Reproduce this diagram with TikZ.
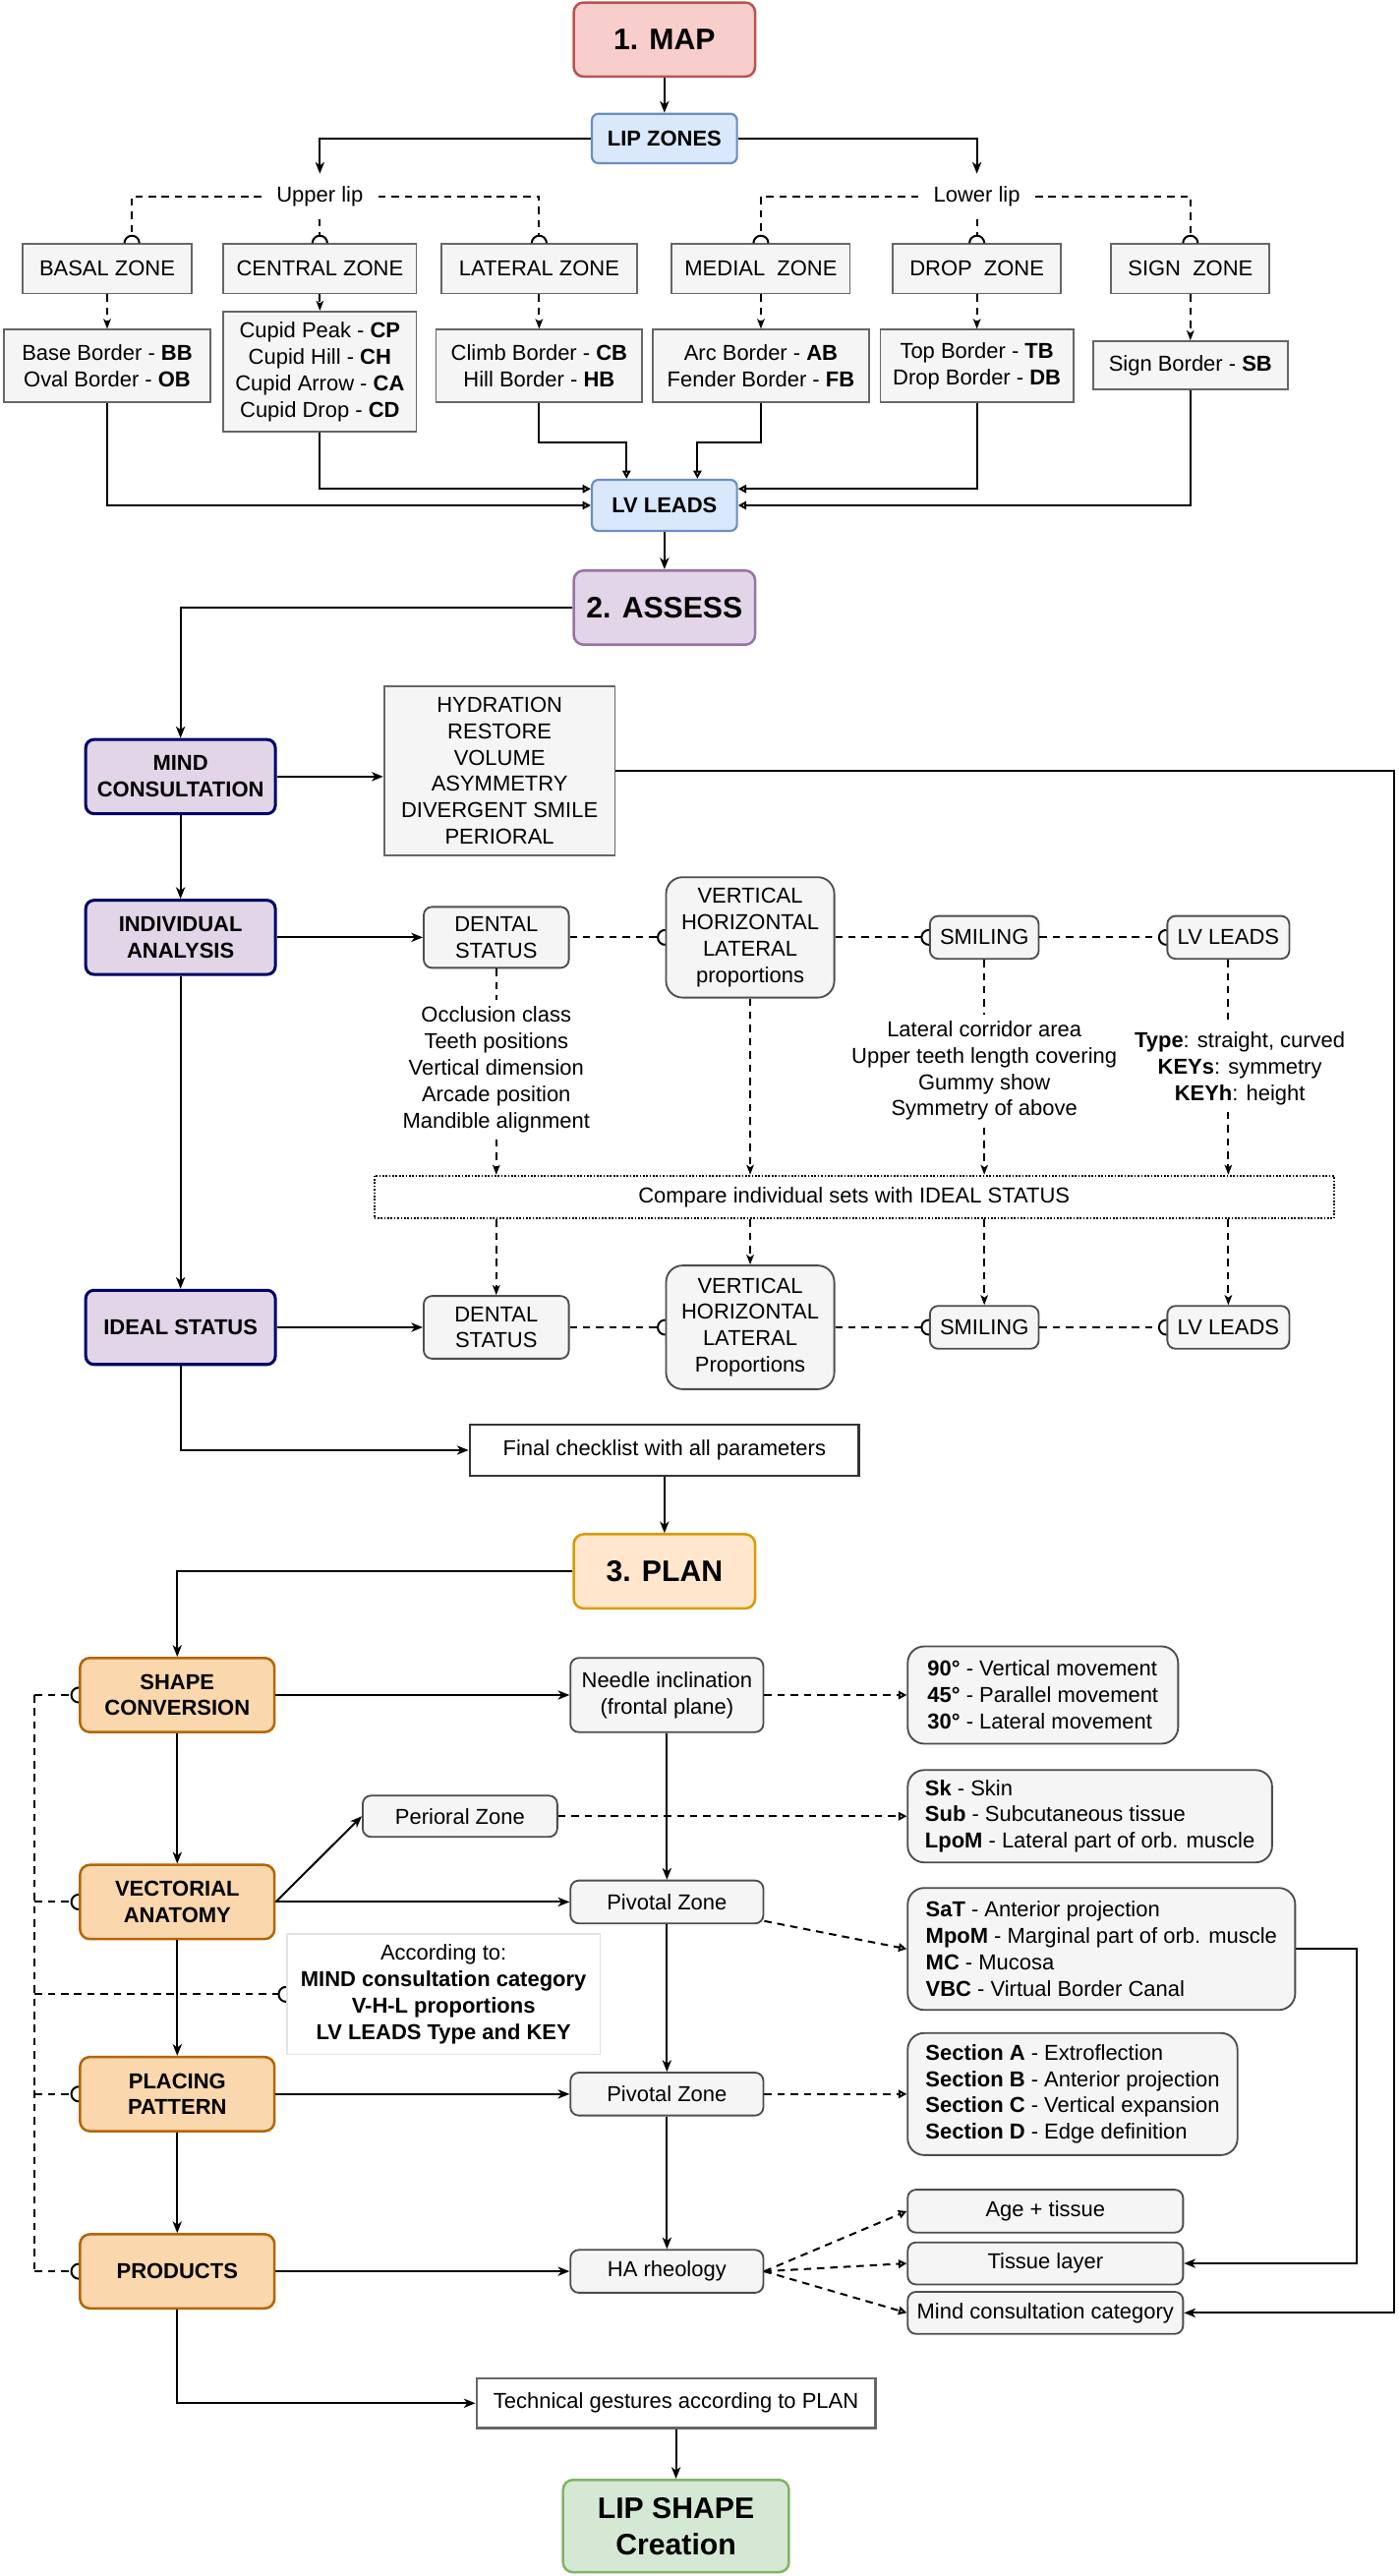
\documentclass[tikz,border=0pt]{standalone}
\usepackage{fontspec}
\setmainfont{Liberation Sans}
\usetikzlibrary{positioning, calc, arrows.meta, decorations.markings}

\definecolor{mapfill}{HTML}{F8CECC}
\definecolor{mapdraw}{HTML}{B85450}
\definecolor{bluefill}{HTML}{DAE8FC}
\definecolor{bluedraw}{HTML}{6C8EBF}
\definecolor{purfill}{HTML}{E1D5E7}
\definecolor{purdraw}{HTML}{9673A6}
\definecolor{navy}{HTML}{000066}
\definecolor{planfill}{HTML}{FFE6CC}
\definecolor{plandraw}{HTML}{D79B00}
\definecolor{orfill}{HTML}{FAD7AC}
\definecolor{ordraw}{HTML}{B46504}
\definecolor{greenfill}{HTML}{D5E8D4}
\definecolor{greendraw}{HTML}{82B366}
\definecolor{boxfill}{HTML}{F5F5F5}
\definecolor{boxdraw}{HTML}{666666}
\definecolor{itemdraw}{HTML}{4D4D4D}
\definecolor{paledraw}{HTML}{E3E3E3}

\newcommand{\diagfont}{\fontsize{13.1}{16}\selectfont}
\newcommand{\stagefont}{\fontsize{18}{22}\selectfont\bfseries}

\tikzset{
every node/.style = {font = \diagfont, align = center, inner sep = 2pt},
stage/.style = {rectangle, draw, rounded corners = 6pt, line width = 1.5pt,
   minimum width = 110pt, minimum height = 45pt, font = \stagefont},
leadbox/.style = {rectangle, draw = bluedraw, fill = bluefill, rounded corners = 4pt,
   line width = 1.3pt, minimum width = 88pt, minimum height = 30pt, font = \diagfont\bfseries},
liplabel/.style = {inner xsep = 9pt, minimum height = 27pt},
zonebox/.style = {rectangle, draw = boxdraw, fill = boxfill, line width = 1.1pt,
   minimum height = 30pt},
borderbox/.style = {rectangle, draw = boxdraw, fill = boxfill, line width = 1.1pt,
   minimum height = 44pt},
mindbox/.style = {rectangle, draw = navy, fill = purfill, rounded corners = 5pt,
   line width = 1.8pt, minimum width = 115pt, minimum height = 45pt, font = \diagfont\bfseries},
orangebox/.style = {rectangle, draw = ordraw, fill = orfill, rounded corners = 6pt,
   line width = 1.5pt, minimum width = 118pt, minimum height = 45pt, font = \diagfont\bfseries},
itembox/.style = {rectangle, draw = itemdraw, fill = boxfill, rounded corners = 5pt,
   line width = 1.1pt, minimum height = 26pt},
tallbox/.style = {itembox, rounded corners = 10pt},
listbox/.style = {itembox, rounded corners = 10pt, align = left, anchor = west},
plainbox/.style = {rectangle, fill = white, line width = 1.3pt},
comparebox/.style = {rectangle, draw, line width = 1.1pt, dash pattern = on 1pt off 1pt,
   minimum width = 582pt, minimum height = 26pt},
textblock/.style = {inner xsep = 2pt, inner ysep = 4pt},
arrowline/.style = {-{Stealth[length = 7pt, width = 5.5pt, inset = 2pt]}, line width = 1.2pt},
openarrow/.style = {-{Triangle[open, length = 5pt, width = 5pt]}, line width = 1.2pt},
dashline/.style = {line width = 1.2pt, dash pattern = on 4.5pt off 3.5pt},
dasharrow/.style = {dashline, -{Stealth[length = 6pt, width = 4.5pt, inset = 1.5pt]}},
dashopen/.style = {dashline, -{Triangle[open, length = 5pt, width = 5pt]}},
halfcircle/.style = {dashline, shorten > = 4.5pt, postaction = {decorate},
   decoration = {markings, mark = at position 1 with
   {\draw [solid, line width = 1.2pt, shorten > = 0pt, shorten < = 0pt] (0pt,4.5pt) arc (90:270:4.5pt);}}}
}

\begin{document}
\begin{tikzpicture}[x = 1pt, y = -1pt]

\useasboundingbox (0,0) rectangle (848,1562.3);

%% 1. MAP
\node [stage, fill = mapfill, draw = mapdraw] (map) at (403,24) {1. MAP};
\node [leadbox] (lipzones) at (403,84) {LIP ZONES};
\node [liplabel] (upper) at (194,119) {Upper lip};
\node [liplabel] (lower) at (592.5,119) {Lower lip};

\path [arrowline] (map) edge (lipzones);
\draw [arrowline] (lipzones.west) -| (upper.north);
\draw [arrowline] (lipzones.east) -| (lower.north);

%% The lip zones
\node [zonebox, minimum width = 103pt] (basalz) at (65,163) {BASAL ZONE};
\node [zonebox, minimum width = 117pt] (centralz) at (194,163) {CENTRAL ZONE};
\node [zonebox, minimum width = 119pt] (lateralz) at (327,163) {LATERAL ZONE};
\node [zonebox, minimum width = 108pt] (medialz) at (461.5,163) {MEDIAL\ \ ZONE};
\node [zonebox, minimum width = 102pt] (dropz) at (592.5,163) {DROP\ \ ZONE};
\node [zonebox, minimum width = 96pt] (signz) at (722,163) {SIGN\ \ ZONE};

\draw [halfcircle] (upper.west) -| ([xshift = 15pt]basalz.north);
\draw [halfcircle] (upper) -- (centralz);
\draw [halfcircle] (upper.east) -| (lateralz.north);
\draw [halfcircle] (lower.west) -| (medialz.north);
\draw [halfcircle] (lower) -- (dropz);
\draw [halfcircle] (lower.east) -| (signz.north);

%% Their borders
\node [borderbox, minimum width = 125pt] (basalb) at (65,222) {Base Border - \textbf{BB}\\Oval Border - \textbf{OB}};
\node [borderbox, minimum width = 117pt, minimum height = 73pt] (centralb) at (194,225.5)
   {Cupid Peak - \textbf{CP}\\Cupid Hill - \textbf{CH}\\Cupid Arrow - \textbf{CA}\\Cupid Drop - \textbf{CD}};
\node [borderbox, minimum width = 125pt] (lateralb) at (327,222) {Climb Border - \textbf{CB}\\Hill Border - \textbf{HB}};
\node [borderbox, minimum width = 131pt] (medialb) at (461.5,222) {Arc Border - \textbf{AB}\\Fender Border - \textbf{FB}};
\node [borderbox, minimum width = 117pt] (dropb) at (592.5,222) {Top Border - \textbf{TB}\\Drop Border - \textbf{DB}};
\node [borderbox, minimum width = 118pt, minimum height = 29pt] (signb) at (722,221.5) {Sign Border - \textbf{SB}};

\path [dasharrow] (basalz) edge (basalb);
\path [dasharrow] (centralz) edge (centralb);
\path [dasharrow] (lateralz) edge (lateralb);
\path [dasharrow] (medialz) edge (medialb);
\path [dasharrow] (dropz) edge (dropb);
\path [dasharrow] (signz) edge (signb);

%% LV LEADS
\node [leadbox, minimum height = 31pt] (lvleads) at (403,306.5) {LV LEADS};

\draw [openarrow] (basalb) |- (lvleads);
\draw [openarrow] (centralb) |- ([yshift = 10pt]lvleads.west);
\draw [openarrow] (lateralb.south) -- ++(0,24) -| ([xshift = -23pt]lvleads.north);
\draw [openarrow] (medialb.south) -- ++(0,24) -| ([xshift = 20pt]lvleads.north);
\draw [openarrow] (dropb) |- ([yshift = 10pt]lvleads.east);
\draw [openarrow] (signb) |- (lvleads);

%% 2. ASSESS
\node [stage, fill = purfill, draw = purdraw] (assess) at (403,368.5) {2. ASSESS};
\path [arrowline] (lvleads) edge (assess);

\node [mindbox] (mind) at (109.5,471) {MIND\\CONSULTATION};
\node [borderbox, minimum width = 140pt, minimum height = 103pt] (concerns) at (303,467.5)
   {HYDRATION\\RESTORE\\VOLUME\\ASYMMETRY\\DIVERGENT SMILE\\PERIORAL};

\draw [arrowline] (assess) -| (mind);
\draw [arrowline] (mind) -- (mind -| concerns.west);

%% Individual analysis
\node [mindbox] (indiv) at (109.5,568.5) {INDIVIDUAL\\ANALYSIS};
\node [itembox, minimum width = 88pt, minimum height = 37pt] (dent1) at (301,568.5) {DENTAL\\STATUS};
\node [tallbox, minimum width = 102pt, minimum height = 73pt] (vert1) at (455,568.5)
   {VERTICAL\\HORIZONTAL\\LATERAL\\proportions};
\node [itembox, minimum width = 66pt] (smil1) at (597,568.5) {SMILING};
\node [itembox, minimum width = 74pt] (lvl1) at (745,568.5) {LV LEADS};

\path [arrowline] (mind) edge (indiv);
\path [arrowline] (indiv) edge (dent1);
\draw [halfcircle] (dent1) -- (vert1);
\draw [halfcircle] (vert1) -- (smil1);
\draw [halfcircle] (smil1) -- (lvl1);

\node [textblock] (occl) at (301,648.7)
   {Occlusion class\\Teeth positions\\Vertical dimension\\Arcade position\\Mandible alignment};
\node [textblock] (smtext) at (597,649.4)
   {Lateral corridor area\\Upper teeth length covering\\Gummy show\\Symmetry of above};
\node [textblock] (lvtext) at (752,648)
   {\textbf{Type}: straight, curved\\\textbf{KEYs}: symmetry\\\textbf{KEYh}: height};

\node [comparebox] (compare) at (518,726) {Compare individual sets with IDEAL STATUS};

\path [dashline] (dent1) edge (occl);
\path [dasharrow] (occl) edge (occl |- compare.north);
\path [dasharrow] (vert1) edge (vert1 |- compare.north);
\path [dashline] (smil1) edge (smtext);
\path [dasharrow] (smtext) edge (smtext |- compare.north);
\path [dashline] (lvl1) edge (lvl1 |- lvtext.north);
\path [dasharrow] (lvl1 |- lvtext.south) edge (lvl1 |- compare.north);

%% Ideal status
\node [mindbox] (ideal) at (109.5,805) {IDEAL STATUS};
\node [itembox, minimum width = 88pt, minimum height = 38pt] (dent2) at (301,805) {DENTAL\\STATUS};
\node [tallbox, minimum width = 102pt, minimum height = 75pt] (vert2) at (455,805)
   {VERTICAL\\HORIZONTAL\\LATERAL\\Proportions};
\node [itembox, minimum width = 66pt] (smil2) at (smil1 |- dent2) {SMILING};
\node [itembox, minimum width = 74pt] (lvl2) at (lvl1 |- dent2) {LV LEADS};

\path [arrowline] (indiv) edge (ideal);
\path [arrowline] (ideal) edge (dent2);
\draw [halfcircle] (dent2) -- (vert2);
\draw [halfcircle] (vert2) -- (smil2);
\draw [halfcircle] (smil2) -- (lvl2);

\path [dasharrow] (compare.south -| dent2) edge (dent2);
\path [dasharrow] (compare.south -| vert2) edge (vert2);
\path [dasharrow] (compare.south -| smil2) edge (smil2);
\path [dasharrow] (compare.south -| lvl2) edge (lvl2);

\node [plainbox, draw = black!80, line width = 1.6pt, minimum width = 236pt, minimum height = 31pt]
   (final) at (403,879.5) {Final checklist with all parameters};
\draw [arrowline] (ideal) |- (final);

%% 3. PLAN
\node [stage, fill = planfill, draw = plandraw] (plan) at (403,953) {3. PLAN};
\path [arrowline] (final) edge (plan);

\node [orangebox] (shape) at (107.5,1028) {SHAPE\\CONVERSION};
\node [orangebox] (vect) at (107.5,1153.5) {VECTORIAL\\ANATOMY};
\node [orangebox] (place) at (107.5,1270) {PLACING\\PATTERN};
\node [orangebox] (prod) at (107.5,1377.5) {PRODUCTS};

\draw [arrowline] (plan) -| (shape);
\path [arrowline] (shape) edge (vect);
\path [arrowline] (vect) edge (place);
\path [arrowline] (place) edge (prod);

%% Middle column
\node [itembox, minimum width = 117pt, minimum height = 45pt] (needle) at (404.5,1028) {Needle inclination\\(frontal plane)};
\node [itembox, minimum width = 118pt, minimum height = 25pt] (perioral) at (279,1101.5) {Perioral Zone};
\node [itembox, minimum width = 117pt] (piv1) at (404.5,1153.5) {Pivotal Zone};
\node [itembox, minimum width = 117pt] (piv2) at (404.5,1270) {Pivotal Zone};
\node [itembox, minimum width = 117pt] (harh) at (404.5,1377.5) {HA rheology};
\node [rectangle, draw = paledraw, fill = white, line width = 1pt, minimum width = 190pt, minimum height = 73pt]
   (according) at (269,1209.5) {According to:\\\textbf{MIND consultation category}\\\textbf{V-H-L proportions}\\\textbf{LV LEADS Type and KEY}};

\path [arrowline] (shape) edge (needle);
\path [arrowline] (vect.east) edge (perioral.west);
\path [arrowline] (vect) edge (piv1);
\path [arrowline] (place) edge (piv2);
\path [arrowline] (prod) edge (harh);
\path [arrowline] (needle) edge (piv1);
\path [arrowline] (piv1) edge (piv2);
\path [arrowline] (piv2) edge (harh);

%% Right column
\node [listbox, minimum width = 164pt, minimum height = 59pt] (angles) at (550,1028)
   {\textbf{90°} - Vertical movement\\\textbf{45°} - Parallel movement\\\textbf{30°} - Lateral movement};
\node [listbox, minimum width = 221pt, minimum height = 56pt] (layers) at (550,1101.5)
   {\textbf{Sk} - Skin\\\textbf{Sub} - Subcutaneous tissue\\\textbf{LpoM} - Lateral part of orb. muscle};
\node [listbox, minimum width = 235pt, minimum height = 74pt] (pivots) at (550,1182)
   {\textbf{SaT} - Anterior projection\\\textbf{MpoM} - Marginal part of orb. muscle\\\textbf{MC} - Mucosa\\\textbf{VBC} - Virtual Border Canal};
\node [listbox, minimum width = 200pt, minimum height = 74pt] (sections) at (550,1270)
   {\textbf{Section A} - Extroflection\\\textbf{Section B} - Anterior projection\\\textbf{Section C} - Vertical expansion\\\textbf{Section D} - Edge definition};
\node [itembox, anchor = west, minimum width = 167pt] (agetis) at (550,1341) {Age + tissue};
\node [itembox, anchor = west, minimum width = 167pt, minimum height = 25.5pt] (tislayer) at (550,1372.7) {Tissue layer};
\node [itembox, anchor = west, minimum width = 167pt, minimum height = 25.5pt] (mindcat) at (550,1402.7) {Mind consultation category};

\path [dashopen] (needle) edge (angles);
\path [dashopen] (perioral) edge (layers);
\path [dashopen] (piv1) edge (pivots.west);
\path [dashopen] (piv2) edge (sections);
\path [dashopen] (harh.east) edge (agetis.west);
\path [dashopen] (harh.east) edge (tislayer.west);
\path [dashopen] (harh.east) edge (mindcat.west);

\draw [arrowline] (pivots.east) -- ++(37,0) |- (tislayer);
\draw [arrowline] (concerns.east) -- ++(472,0) |- (mindcat);

%% Left dashed bus with half circles
\coordinate (bustop) at (21,1028);
\coordinate (busend) at (21,1377.5);
\path [dashline] (bustop) edge (busend);
\draw [halfcircle] (bustop) -- (shape);
\draw [halfcircle] (bustop |- vect) -- (vect);
\draw [halfcircle] (bustop |- according) -- (according);
\draw [halfcircle] (bustop |- place) -- (place);
\draw [halfcircle] (busend) -- (prod);

%% Final gestures
\node [plainbox, draw = boxdraw, minimum width = 242pt, minimum height = 30pt] (tech) at (410,1457.5)
   {Technical gestures according to PLAN};
\node [stage, fill = greenfill, draw = greendraw, minimum width = 137pt, minimum height = 56pt]
   (lipshape) at (410,1532) {LIP SHAPE\\Creation};

\draw [arrowline] (prod) |- (tech);
\path [arrowline] (tech) edge (lipshape);

\end{tikzpicture}
\end{document}
